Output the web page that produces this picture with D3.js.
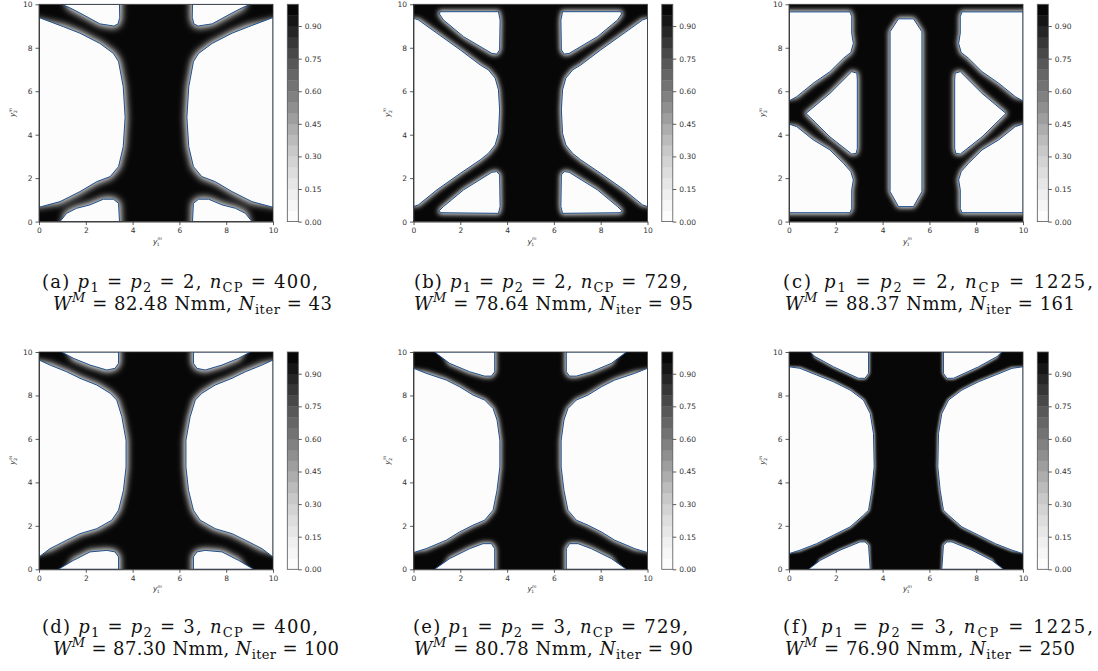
<!DOCTYPE html>
<html lang="en">
<head>
<meta charset="utf-8">
<title>Density fields</title>
<script src="https://cdnjs.cloudflare.com/ajax/libs/d3/7.8.5/d3.min.js"></script>
<style type="text/css">
    body { margin: 0; background: white; }
    g.tick text { font-family: "DejaVu Sans", sans-serif; font-size: 7.5px; fill: #333; }
    g.tick line { stroke: #333; stroke-width: 0.8; }
    path.domain { stroke: #333; stroke-width: 0.8; }
    .axlab { font-family: "DejaVu Sans", sans-serif; font-size: 7.5px; fill: #333; }
    .caption { font-family: "DejaVu Serif", "Liberation Serif", serif; font-size: 18px; fill: #111; }
</style>
</head>
<body>
<div id="chart"></div>
<script type="text/javascript">

// ---- data ----
const panelIds = ["a", "b", "c", "d", "e", "f"];
const pOrder = [2, 2, 2, 3, 3, 3];
const nCP = [400, 729, 1225, 400, 729, 1225];
const workW = ["82.48", "78.64", "88.37", "87.30", "80.78", "76.90"];
const nIter = [43, 95, 161, 100, 90, 250];
const axisTicks = [0, 2, 4, 6, 8, 10];
const colorbarTicks = [0, 0.15, 0.30, 0.45, 0.60, 0.75, 0.90];
const levels = [0, 0.05, 0.1, 0.15, 0.2, 0.25, 0.3, 0.35, 0.4, 0.45, 0.5,
                0.55, 0.6, 0.65, 0.7, 0.75, 0.8, 0.85, 0.9, 0.95, 1.0];

// void regions (density ~ 0) as outlines in (y1, y2); mirror = also drawn at 10 - y1
const holesA = [
    { mirror: true, pts: [[0.97, 10], [3.44, 10], [3.45, 9.4], [3.38, 9.1], [3.2, 9.0], [2.6, 9.1], [1.75, 9.6], [1.3, 9.85]] },
    { mirror: true, pts: [[0, 9.39], [1.04, 8.97], [1.75, 8.67], [2.6, 8.2], [3.18, 7.74], [3.4, 7.36], [3.6, 6.2], [3.68, 4.8],
                          [3.6, 3.45], [3.4, 2.53], [3.04, 2.07], [2.47, 1.84], [1.75, 1.38], [0.9, 0.92], [0, 0.66]] },
    { mirror: true, pts: [[0.9, 0], [3.44, 0], [3.4, 0.84], [3.18, 1.03], [2.75, 1.03], [2.18, 0.77], [1.6, 0.61], [1.18, 0.38]] }
];
const holesB = [
    { mirror: true, pts: [[1.14, 9.66], [3.63, 9.66], [3.7, 9.28], [3.68, 7.9], [3.56, 7.71], [3.35, 7.74], [2.14, 8.51], [1.28, 9.28], [1.11, 9.55]] },
    { mirror: true, pts: [[0, 9.36], [0.21, 9.28], [1.0, 8.67], [2.0, 7.9], [2.85, 7.21], [3.2, 6.98], [3.49, 6.6], [3.63, 6.06], [3.68, 5.14],
                          [3.63, 4.06], [3.49, 3.53], [3.2, 3.14], [2.85, 2.84], [2.0, 2.22], [1.0, 1.46], [0.21, 0.77], [0, 0.69]] },
    { mirror: true, pts: [[1.14, 0.41], [3.63, 0.38], [3.7, 0.69], [3.68, 2.15], [3.56, 2.3], [3.35, 2.27], [2.14, 1.46], [1.28, 0.69], [1.11, 0.51]] }
];
const holesC = [
    { mirror: true, pts: [[0, 9.65], [2.61, 9.65], [2.68, 9.43], [2.68, 8.67], [2.75, 8.2], [2.64, 7.78], [2.33, 7.52], [1.75, 6.9],
                          [1.04, 6.37], [0.33, 5.75], [0, 5.55]] },
    { mirror: true, pts: [[0.73, 4.98], [1.75, 5.9], [2.68, 6.9], [2.9, 6.83], [2.92, 6.52], [2.92, 3.37], [2.87, 3.14], [2.68, 3.11], [1.75, 3.9]] },
    { mirror: true, pts: [[0, 4.49], [0.33, 4.37], [1.04, 3.76], [1.75, 3.3], [2.33, 2.68], [2.64, 2.3], [2.75, 1.92], [2.68, 1.46],
                          [2.68, 0.61], [2.61, 0.41], [0, 0.41]] },
    { mirror: false, pts: [[4.32, 8.74], [4.68, 9.33], [5.32, 9.33], [5.68, 8.74], [5.68, 1.38], [5.32, 0.69], [4.68, 0.69], [4.32, 1.38]] }
];
const holesD = [
    { mirror: true, pts: [[0.97, 10], [3.4, 10], [3.4, 9.48], [3.25, 9.25], [2.9, 9.17], [2.18, 9.4], [1.47, 9.71]] },
    { mirror: true, pts: [[0, 9.63], [0.47, 9.4], [1.18, 9.09], [1.75, 8.79], [2.47, 8.48], [3.04, 8.1], [3.32, 7.79], [3.54, 7.02], [3.72, 5.94],
                          [3.72, 4.71], [3.61, 3.64], [3.4, 2.72], [3.11, 2.26], [2.47, 1.87], [1.75, 1.64], [1.18, 1.34], [0.47, 0.95], [0, 0.57]] },
    { mirror: true, pts: [[0.83, 0], [3.4, 0], [3.4, 0.57], [3.25, 0.8], [2.9, 0.87], [2.18, 0.8], [1.47, 0.41]] }
];
const holesE = [
    { mirror: true, pts: [[0.9, 10], [3.47, 10], [3.47, 9.09], [3.33, 8.89], [3.04, 8.89], [2.4, 9.09], [1.54, 9.48]] },
    { mirror: true, pts: [[0, 9.25], [0.54, 9.02], [1.4, 8.71], [1.97, 8.4], [2.54, 8.02], [3.04, 7.79], [3.4, 7.4], [3.57, 6.87], [3.69, 5.94],
                          [3.69, 4.71], [3.57, 3.64], [3.4, 2.72], [3.04, 2.26], [2.54, 2.03], [1.97, 1.72], [1.4, 1.34], [0.54, 0.95], [0, 0.77]] },
    { mirror: true, pts: [[0.9, 0], [3.47, 0], [3.47, 0.95], [3.33, 1.18], [2.97, 1.18], [2.4, 0.95], [1.54, 0.49]] }
];
const holesF = [
    { mirror: true, pts: [[0.9, 10], [3.4, 10], [3.4, 9.02], [3.25, 8.79], [2.97, 8.79], [1.9, 9.32], [1.11, 9.79]] },
    { mirror: true, pts: [[0, 9.32], [0.47, 9.25], [1.18, 8.94], [1.9, 8.63], [2.61, 8.25], [3.18, 7.79], [3.47, 7.17], [3.61, 6.25], [3.64, 4.72],
                          [3.54, 3.64], [3.4, 2.72], [3.18, 2.49], [2.61, 1.95], [1.9, 1.57], [1.18, 1.18], [0.47, 0.88], [0, 0.72]] },
    { mirror: true, pts: [[0.83, 0], [3.47, 0], [3.4, 1.11], [3.25, 1.26], [3.04, 1.26], [2.18, 0.88], [1.33, 0.41]] }
];
const holes = [holesA, holesB, holesC, holesD, holesE, holesF];

// ---- layout ----
const width = 1098, height = 671;
const colX = [39, 413.5, 789];
const rowY = [4.3, 352];
const plotW = 234, plotH = 217.3;
const cbarOffset = 248.3, cbarW = 11;
const rimBlur = [3.6, 2.4, 2.4, 3.4, 2.6, 1.8];     // soft edge per panel (px)
const rimGrow = [4, 3, 3, 4, 3, 2];
const capStart = [[42, 53], [414, 414], [783, 785], [42, 53], [413, 414], [783, 785]];
const capLen = [[276, 279], [274, 279], [310, 290], [276, 286], [275, 279], [310, 290]];
const capBase = [[288, 310], [633, 655]];

const contourBlue = "#1f4f8c";
const voidFill = d3.interpolateGreys(0.025);
const solidFill = d3.interpolateGreys(0.975);

const svg = d3.select("#chart")
    .append("svg")
    .attr("width", width)
    .attr("height", height);

const defs = svg.append("defs");

// writes math-like caption tokens; s: "sub" / "sup", i: italic
function writeTokens(textSel, tokens) {
    let off = 0;
    tokens.forEach(tk => {
        const target = tk.s === "sub" ? 4 : (tk.s === "sup" ? -8 : 0);
        const ts = textSel.append("tspan")
            .attr("dy", target - off)
            .attr("font-style", tk.i ? "italic" : "normal")
            .text(tk.t);
        if (tk.s) ts.attr("font-size", "13px");
        off = target;
    });
}

panelIds.forEach((id, i) => {
    const col = i % 3, row = Math.floor(i / 3);
    const x0 = colX[col], y0 = rowY[row];

    const xScale = d3.scaleLinear().domain([0, 10]).range([x0, x0 + plotW]);
    const yScale = d3.scaleLinear().domain([0, 10]).range([y0 + plotH, y0]);

    defs.append("clipPath").attr("id", "clip-" + id)
        .append("rect")
        .attr("x", x0).attr("y", y0).attr("width", plotW).attr("height", plotH);

    defs.append("filter").attr("id", "blur-" + id)
        .attr("x", -0.2).attr("y", -0.2).attr("width", 1.4).attr("height", 1.4)
        .append("feGaussianBlur").attr("stdDeviation", rimBlur[i]);

    const g = svg.append("g").attr("class", "panel");

    // outline list with mirrored copies
    let shapes = [];
    holes[i].forEach(h => {
        shapes.push(h.pts);
        if (h.mirror) shapes.push(h.pts.map(p => [10 - p[0], p[1]]));
    });

    const line = d3.line().x(d => xScale(d[0])).y(d => yScale(d[1])).curve(d3.curveLinearClosed);
    // points on the frame are pushed outward so the blur does not darken the border
    const push = v => v <= 0 ? v - 0.8 : (v >= 10 ? v + 0.8 : v);
    const lineOut = d3.line().x(d => xScale(push(d[0]))).y(d => yScale(push(d[1]))).curve(d3.curveLinearClosed);

    const field = g.append("g").attr("clip-path", "url(#clip-" + id + ")");
    field.append("rect")
        .attr("x", x0).attr("y", y0).attr("width", plotW).attr("height", plotH)
        .attr("fill", solidFill);

    field.append("g").attr("filter", "url(#blur-" + id + ")")
        .selectAll("path").data(shapes).enter().append("path")
        .attr("d", lineOut)
        .attr("fill", voidFill)
        .attr("stroke", voidFill)
        .attr("stroke-width", rimGrow[i])
        .attr("stroke-linejoin", "round");

    field.append("g")
        .selectAll("path").data(shapes).enter().append("path")
        .attr("d", line)
        .attr("fill", voidFill)
        .attr("stroke", contourBlue)
        .attr("stroke-width", 1)
        .attr("stroke-linejoin", "round");

    // axes
    g.append("g")
        .attr("transform", `translate(0,${y0 + plotH})`)
        .call(d3.axisBottom(xScale).tickValues(axisTicks).tickSize(3.5).tickSizeOuter(0).tickFormat(d3.format("d")));
    g.append("g")
        .attr("transform", `translate(${x0},0)`)
        .call(d3.axisLeft(yScale).tickValues(axisTicks).tickSize(3.5).tickSizeOuter(0).tickFormat(d3.format("d")));
    g.append("rect")
        .attr("x", x0).attr("y", y0).attr("width", plotW).attr("height", plotH)
        .attr("fill", "none").attr("stroke", "#333").attr("stroke-width", 0.8);

    // axis labels y_1^m and y_2^m
    const xl = g.append("text").attr("class", "axlab")
        .attr("x", x0 + plotW / 2 - 3).attr("y", y0 + plotH + 22);
    xl.append("tspan").attr("font-style", "italic").text("y");
    xl.append("tspan").attr("font-size", "4.5px").attr("font-style", "italic").attr("dy", -3.5).text("m");
    xl.append("tspan").attr("font-size", "4.5px").attr("dx", -5).attr("dy", 5.5).text("1");

    const yl = g.append("text").attr("class", "axlab")
        .attr("transform", `translate(${x0 - 24},${y0 + plotH / 2 + 4}) rotate(-90)`);
    yl.append("tspan").attr("font-style", "italic").text("y");
    yl.append("tspan").attr("font-size", "4.5px").attr("font-style", "italic").attr("dy", -3.5).text("m");
    yl.append("tspan").attr("font-size", "4.5px").attr("dx", -5).attr("dy", 5.5).text("2");

    // colorbar
    const cx = x0 + cbarOffset;
    const cScale = d3.scaleLinear().domain([0, 1]).range([y0 + plotH, y0]);
    const bands = levels.slice(0, -1).map((lv, k) => [lv, levels[k + 1]]);
    g.append("g").selectAll("rect").data(bands).enter().append("rect")
        .attr("x", cx).attr("width", cbarW)
        .attr("y", d => cScale(d[1]))
        .attr("height", d => cScale(d[0]) - cScale(d[1]) + 0.3)
        .attr("fill", d => d3.interpolateGreys((d[0] + d[1]) / 2));
    g.append("rect")
        .attr("x", cx).attr("y", y0).attr("width", cbarW).attr("height", plotH)
        .attr("fill", "none").attr("stroke", "#555").attr("stroke-width", 0.8);
    g.append("g")
        .attr("transform", `translate(${cx + cbarW},0)`)
        .call(d3.axisRight(cScale).tickValues(colorbarTicks).tickSize(3.5).tickSizeOuter(0).tickFormat(d3.format(".2f")))
        .call(s => s.select(".domain").remove());

    // caption, two lines
    const gap = col === 2 ? "\u2002" : " ";
    const c1 = g.append("text").attr("class", "caption")
        .attr("x", capStart[i][0]).attr("y", capBase[row][0])
        .attr("textLength", capLen[i][0]).attr("lengthAdjust", "spacing");
    writeTokens(c1, [
        { t: "(" + id + ")" + gap }, { t: "p", i: 1 }, { t: "1", s: "sub" }, { t: " = " },
        { t: "p", i: 1 }, { t: "2", s: "sub" }, { t: " = " + pOrder[i] + ", " },
        { t: "n", i: 1 }, { t: "CP", s: "sub" }, { t: " = " + nCP[i] + "," }
    ]);

    const c2 = g.append("text").attr("class", "caption")
        .attr("x", capStart[i][1]).attr("y", capBase[row][1])
        .attr("textLength", capLen[i][1]).attr("lengthAdjust", "spacing");
    writeTokens(c2, [
        { t: "W", i: 1 }, { t: "M", s: "sup", i: 1 }, { t: " = " + workW[i] + " Nmm, " },
        { t: "N", i: 1 }, { t: "iter", s: "sub" }, { t: " = " + nIter[i] }
    ]);
});

</script>
</body>
</html>
